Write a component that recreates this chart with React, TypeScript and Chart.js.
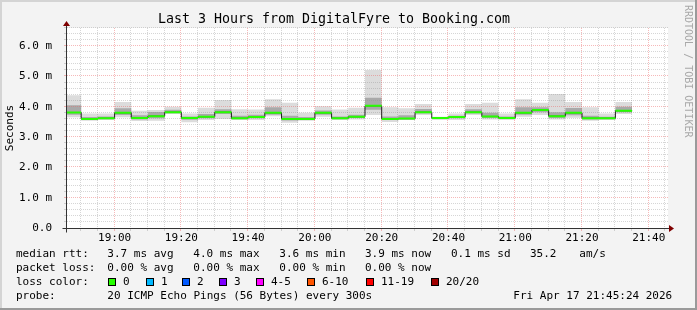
import React, { useEffect, useRef } from 'react';
import { Chart, registerables } from 'chart.js';

Chart.register(...registerables);

// ---------------- data ----------------
const FIRST_INTERVAL_START = 18 * 60 + 45; // 18:45, minutes since midnight
const INTERVAL_MIN = 5;

const medianRtt = [3.81, 3.60, 3.62, 3.80, 3.63, 3.69, 3.82, 3.63, 3.67, 3.82, 3.62, 3.66, 3.80, 3.60, 3.60, 3.80, 3.62, 3.67, 4.03, 3.60, 3.61, 3.82, 3.63, 3.66, 3.82, 3.68, 3.63, 3.80, 3.89, 3.69, 3.80, 3.62, 3.62, 3.87];
const smokeMax = [4.38, 3.78, 3.78, 4.16, 3.87, 3.89, 4.00, 3.78, 3.97, 4.22, 3.92, 3.91, 4.25, 4.13, 3.80, 4.02, 3.91, 3.97, 5.21, 3.98, 3.95, 4.09, 3.67, 3.78, 4.09, 4.13, 3.78, 4.25, 4.13, 4.42, 4.16, 3.98, 3.78, 4.16];
const smokeUpper = [4.05, 3.66, 3.68, 3.95, 3.72, 3.83, 3.90, 3.68, 3.76, 3.92, 3.70, 3.74, 3.98, 3.70, 3.66, 3.88, 3.68, 3.74, 4.30, 3.68, 3.72, 3.93, 3.65, 3.70, 3.92, 3.80, 3.68, 3.98, 3.98, 3.82, 3.96, 3.70, 3.67, 4.00];
const smokeLower = [3.74, 3.57, 3.59, 3.73, 3.58, 3.62, 3.79, 3.57, 3.62, 3.76, 3.59, 3.62, 3.74, 3.55, 3.57, 3.74, 3.59, 3.63, 3.90, 3.56, 3.58, 3.78, 3.60, 3.62, 3.78, 3.63, 3.60, 3.74, 3.82, 3.63, 3.72, 3.58, 3.59, 3.82];
const smokeMin = [3.65, 3.54, 3.56, 3.65, 3.53, 3.54, 3.76, 3.49, 3.56, 3.60, 3.56, 3.56, 3.69, 3.47, 3.54, 3.67, 3.56, 3.58, 3.73, 3.50, 3.56, 3.73, 3.56, 3.56, 3.73, 3.58, 3.56, 3.67, 3.73, 3.58, 3.64, 3.54, 3.56, 3.76];

const xTickLabels = ['19:00', '19:20', '19:40', '20:00', '20:20', '20:40', '21:00', '21:20', '21:40'];
const yTickValues = [0, 1, 2, 3, 4, 5, 6];
const yTickLabels = ['0.0', '1.0 m', '2.0 m', '3.0 m', '4.0 m', '5.0 m', '6.0 m'];

const TITLE = 'Last 3 Hours from DigitalFyre to Booking.com';
const rttStats = ['3.7 ms avg', '4.0 ms max', '3.6 ms min', '3.9 ms now', '0.1 ms sd', '35.2', 'am/s'];
const lossStats = ['0.00 % avg', '0.00 % max', '0.00 % min', '0.00 % now'];
const lossColorLabels = ['0', '1', '2', '3', '4-5', '6-10', '11-19', '20/20'];
const lossColors = ['#26ff00', '#00b8ff', '#0059ff', '#7e00ff', '#ff00ff', '#ff5500', '#ff0000', '#a00000'];
const probeText = '20 ICMP Echo Pings (56 Bytes) every 300s';
const dateText = 'Fri Apr 17 21:45:24 2026';
const watermark = 'RRDTOOL / TOBI OETIKER';

// ---------------- layout / style ----------------
const FONT = '"DejaVu Sans Mono", monospace';
const X_MIN = 18 * 60 + 45.75;
const X_MAX = X_MIN + 180;
const Y_MAX = 6.6;
const Y_MINOR = 0.2;
const X_MINOR = 5;
const X_MAJOR = 20;
const GRID = 'rgba(140,140,140,0.36)';
const MGRID = 'rgba(235,100,100,0.45)';

const rttX = [107.3, 193.3, 279.3, 365, 451, 530, 579.3];
const lossX = [107.3, 193.3, 279.3, 365];
const boxX = [108, 146, 182, 219, 256, 307, 366, 431];
const rowY = [254, 268, 282, 296];

const toMin = (s: string) => {
  const [h, m] = s.split(':').map(Number);
  return h * 60 + m;
};
const fmtMin = (v: number) => {
  const h = Math.floor(v / 60);
  const m = Math.round(v - h * 60);
  return `${h}:${String(m).padStart(2, '0')}`;
};
const xTickValues = xTickLabels.map(toMin);

const stepPoints = (vals: number[]) => {
  const pts = vals.map((v, i) => ({ x: FIRST_INTERVAL_START + i * INTERVAL_MIN, y: v }));
  pts.push({ x: FIRST_INTERVAL_START + vals.length * INTERVAL_MIN, y: vals[vals.length - 1] });
  return pts;
};
const segmentPoints = (vals: number[]) => {
  const pts: { x: number; y: number | null }[] = [];
  vals.forEach((v, i) => {
    const s = FIRST_INTERVAL_START + i * INTERVAL_MIN;
    pts.push({ x: s, y: v }, { x: s + INTERVAL_MIN, y: v }, { x: s + INTERVAL_MIN, y: null });
  });
  return pts;
};

const SMOKE_LAST_INDEX = 3;

function drawGrid(chart: any) {
  const { ctx, chartArea: a } = chart;
  const xs = chart.scales.x;
  const ys = chart.scales.y;
  const L = Math.round(a.left);
  const R = Math.round(a.right);
  const T = Math.round(a.top);
  const B = Math.round(a.bottom);
  ctx.save();
  ctx.lineWidth = 1;
  ctx.setLineDash([1, 1]);
  const hLines: { p: number; major: boolean }[] = [];
  for (let k = 1; k * Y_MINOR <= Y_MAX + 1e-9; k++) {
    const v = k * Y_MINOR;
    hLines.push({ p: Math.round(ys.getPixelForValue(v)) - 0.5, major: Math.abs(v - Math.round(v)) < 1e-6 });
  }
  const vLines: { p: number; major: boolean }[] = [];
  for (let t = Math.ceil(X_MIN / X_MINOR) * X_MINOR; t <= X_MAX; t += X_MINOR) {
    vLines.push({ p: Math.round(xs.getPixelForValue(t)) - 0.5, major: t % X_MAJOR === 0 });
  }
  for (const pass of [false, true]) {
    ctx.strokeStyle = pass ? MGRID : GRID;
    for (const l of hLines) {
      if (l.major !== pass) continue;
      ctx.beginPath();
      ctx.moveTo(L, l.p);
      ctx.lineTo(R, l.p);
      ctx.stroke();
    }
    for (const l of vLines) {
      if (l.major !== pass) continue;
      ctx.beginPath();
      ctx.moveTo(l.p, T);
      ctx.lineTo(l.p, B);
      ctx.stroke();
    }
  }
  // small tick marks outside the axes
  ctx.setLineDash([]);
  for (const l of hLines) {
    ctx.strokeStyle = l.major ? MGRID : GRID;
    ctx.beginPath();
    ctx.moveTo(L - 3, l.p);
    ctx.lineTo(L, l.p);
    ctx.stroke();
  }
  for (const l of vLines) {
    ctx.strokeStyle = l.major ? MGRID : GRID;
    ctx.beginPath();
    ctx.moveTo(l.p, B);
    ctx.lineTo(l.p, B + 3);
    ctx.stroke();
  }
  ctx.restore();
}

const rrdPlugin = {
  id: 'rrdLook',
  beforeDraw(chart: any) {
    const { ctx, chartArea: a, width, height } = chart;
    ctx.save();
    ctx.fillStyle = '#f3f3f3';
    ctx.fillRect(0, 0, width, height);
    ctx.fillStyle = '#d4d4d4';
    ctx.fillRect(0, 0, width, 2);
    ctx.fillRect(0, 0, 2, height);
    ctx.fillStyle = '#9a9a9a';
    ctx.fillRect(0, height - 2, width, 2);
    ctx.fillRect(width - 2, 0, 2, height);
    ctx.fillStyle = '#ffffff';
    ctx.fillRect(Math.round(a.left), Math.round(a.top), Math.round(a.right) - Math.round(a.left), Math.round(a.bottom) - Math.round(a.top));
    ctx.restore();
  },
  afterDatasetDraw(chart: any, args: any) {
    if (args.index === SMOKE_LAST_INDEX) drawGrid(chart);
  },
  afterDatasetsDraw(chart: any) {
    const { ctx, chartArea: a } = chart;
    const L = Math.round(a.left) - 0.5;
    const B = Math.round(a.bottom) + 0.5;
    const R = Math.round(a.right);
    const T = Math.round(a.top);
    ctx.save();
    ctx.strokeStyle = '#333333';
    ctx.lineWidth = 1;
    ctx.beginPath();
    ctx.moveTo(L - 4, B);
    ctx.lineTo(R + 2, B);
    ctx.moveTo(L, B + 4);
    ctx.lineTo(L, T - 2);
    ctx.stroke();
    ctx.fillStyle = '#7f0000';
    ctx.beginPath();
    ctx.moveTo(R + 1, B - 3.5);
    ctx.lineTo(R + 6, B);
    ctx.lineTo(R + 1, B + 3.5);
    ctx.closePath();
    ctx.fill();
    ctx.beginPath();
    ctx.moveTo(L - 3.5, T - 2);
    ctx.lineTo(L, T - 7);
    ctx.lineTo(L + 3.5, T - 2);
    ctx.closePath();
    ctx.fill();
    ctx.restore();
  },
  afterDraw(chart: any) {
    const { ctx } = chart;
    ctx.save();
    ctx.font = `11px ${FONT}`;
    ctx.fillStyle = '#000';
    ctx.textAlign = 'left';
    ctx.textBaseline = 'middle';
    ctx.fillText('median rtt:', 16, rowY[0]);
    rttStats.forEach((s, i) => ctx.fillText(s, rttX[i], rowY[0]));
    ctx.fillText('packet loss:', 16, rowY[1]);
    lossStats.forEach((s, i) => ctx.fillText(s, lossX[i], rowY[1]));
    ctx.fillText('loss color:', 16, rowY[2]);
    lossColorLabels.forEach((s, i) => {
      const bx = boxX[i];
      ctx.fillStyle = '#000';
      ctx.fillRect(bx, rowY[2] - 4, 8, 8);
      ctx.fillStyle = lossColors[i];
      ctx.fillRect(bx + 1, rowY[2] - 3, 6, 6);
      ctx.fillStyle = '#000';
      ctx.fillText(s, bx + 15, rowY[2]);
    });
    ctx.fillText('probe:', 16, rowY[3]);
    ctx.fillText(probeText, 107.3, rowY[3]);
    ctx.fillText(dateText, 513.3, rowY[3]);
    // watermark
    ctx.font = `10px ${FONT}`;
    ctx.fillStyle = '#a8a8a8';
    ctx.translate(688, 5);
    ctx.rotate(Math.PI / 2);
    ctx.fillText(watermark, 0, 0);
    ctx.restore();
  },
};

export default function App() {
  const ref = useRef<HTMLCanvasElement>(null);
  useEffect(() => {
    document.body.style.margin = '0';
    const canvas = ref.current;
    if (!canvas) return;
    const lineBase = { pointRadius: 0, pointHoverRadius: 0, tension: 0 };
    const chart = new Chart(canvas, {
      type: 'line',
      data: {
        datasets: [
          { ...lineBase, label: 'max', data: stepPoints(smokeMax), stepped: true, borderWidth: 0, borderColor: 'rgba(0,0,0,0)', fill: '+1', backgroundColor: '#dcdcdc', order: 6 },
          { ...lineBase, label: 'min', data: stepPoints(smokeMin), stepped: true, borderWidth: 0, borderColor: 'rgba(0,0,0,0)', fill: false, order: 5 },
          { ...lineBase, label: 'upper', data: stepPoints(smokeUpper), stepped: true, borderWidth: 0, borderColor: 'rgba(0,0,0,0)', fill: '+1', backgroundColor: '#a9a9a9', order: 4 },
          { ...lineBase, label: 'lower', data: stepPoints(smokeLower), stepped: true, borderWidth: 0, borderColor: 'rgba(0,0,0,0)', fill: false, order: 3 },
          { ...lineBase, label: 'median', data: stepPoints(medianRtt), stepped: true, borderWidth: 1, borderColor: '#202020', fill: false, order: 2 },
          { ...lineBase, label: 'loss 0', data: segmentPoints(medianRtt), spanGaps: false, borderWidth: 2, borderColor: '#26ff00', borderCapStyle: 'butt', fill: false, order: 1 },
        ] as any,
      },
      options: {
        animation: false,
        responsive: false,
        devicePixelRatio: 1,
        events: [],
        layout: { padding: { left: 0, right: 29, top: 0, bottom: 0 }, autoPadding: false } as any,
        plugins: {
          legend: { display: false },
          tooltip: { enabled: false },
          title: {
            display: true,
            text: TITLE,
            color: '#000',
            font: { family: FONT, size: 13.3, weight: 'normal' },
            padding: { top: 12, bottom: 0 },
          },
        },
        scales: {
          x: {
            type: 'linear',
            min: X_MIN,
            max: X_MAX,
            grid: { display: false },
            border: { display: false },
            afterFit: (s: any) => { s.height = 82; },
            afterBuildTicks: (s: any) => { s.ticks = xTickValues.map((v) => ({ value: v })); },
            ticks: {
              autoSkip: false,
              maxRotation: 0,
              padding: -4,
              color: '#000',
              font: { family: FONT, size: 11 },
              callback: (v: any) => fmtMin(Number(v)),
            },
          },
          y: {
            type: 'linear',
            min: 0,
            max: Y_MAX,
            grid: { display: false },
            border: { display: false },
            afterFit: (s: any) => { s.width = 67; },
            afterBuildTicks: (s: any) => { s.ticks = yTickValues.map((v) => ({ value: v })); },
            ticks: {
              autoSkip: false,
              padding: 7,
              color: '#000',
              font: { family: FONT, size: 11 },
              callback: (v: any) => yTickLabels[yTickValues.indexOf(Number(v))] ?? '',
            },
            title: {
              display: true,
              text: 'Seconds',
              color: '#000',
              font: { family: FONT, size: 11 },
              padding: { top: 4, bottom: 0 },
            },
          },
        },
      } as any,
      plugins: [rrdPlugin],
    });
    return () => chart.destroy();
  }, []);
  return <canvas ref={ref} width={697} height={310} style={{ display: 'block' }} />;
}
